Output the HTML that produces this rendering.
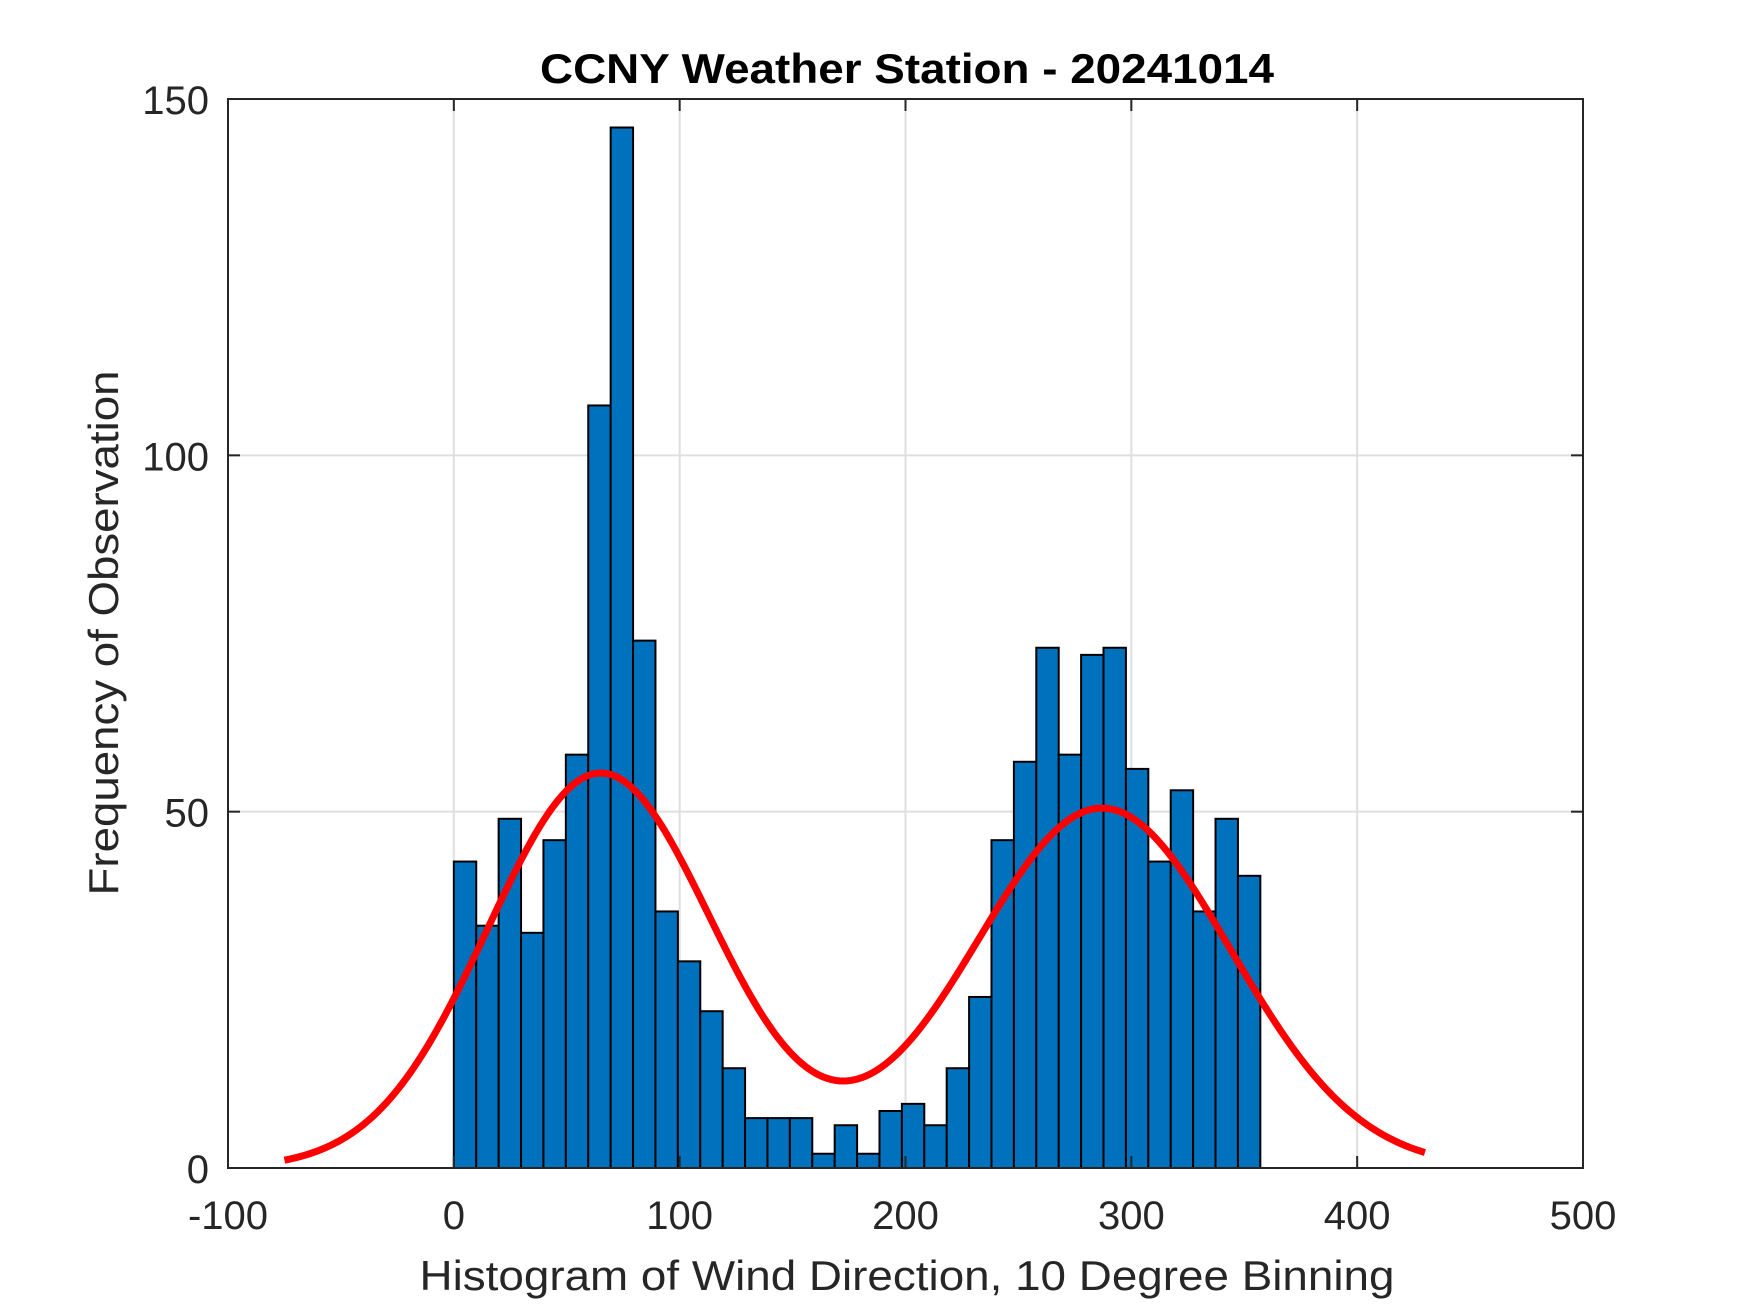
<!DOCTYPE html>
<html><head><meta charset="utf-8"><style>
html,body{margin:0;padding:0;background:#fff;}
svg{display:block;font-family:"Liberation Sans",Arial,sans-serif;}
</style></head><body>
<svg id="chart" width="1750" height="1313" viewBox="0 0 1750 1313">
<rect x="0" y="0" width="1750" height="1313" fill="#fff"/>
<g id="grid"></g>
<g id="bars"></g>
<g id="fit"></g>
<g id="axes"></g>
<text x="907" y="83" text-anchor="middle" font-size="42" font-weight="bold" fill="#000" textLength="734" lengthAdjust="spacingAndGlyphs">CCNY Weather Station - 20241014</text>
<text x="907" y="1290" text-anchor="middle" font-size="42" fill="#262626" textLength="975" lengthAdjust="spacingAndGlyphs">Histogram of Wind Direction, 10 Degree Binning</text>
<text transform="translate(118,633) rotate(-90)" text-anchor="middle" font-size="42" fill="#262626" textLength="525" lengthAdjust="spacingAndGlyphs">Frequency of Observation</text>
</svg>
<script>
const binStart = 0;
const binWidth = 9.92;
const counts = [43,34,49,33,46,58,107,146,74,36,29,22,14,7,7,7,2,6,2,8,9,6,14,24,46,57,73,58,72,73,56,43,53,36,49,41];
const xTicks = [-100,0,100,200,300,400,500];
const yTicks = [0,50,100,150];
const fitMeans = [65,287];
const fitSigmas = [50,57];
const fitAmps = [55.4,50.5];
const fitRange = [-75,430];

const L=228,R=1583,T=99,B=1168;
const xMin=-100,xMax=500,yMin=0,yMax=150;
const ns="http://www.w3.org/2000/svg";
function sx(v){return L+(v-xMin)/(xMax-xMin)*(R-L);}
function sy(v){return B-(v-yMin)/(yMax-yMin)*(B-T);}
function mk(tag,attrs,parent){const e=document.createElementNS(ns,tag);for(const k in attrs)e.setAttribute(k,attrs[k]);parent.appendChild(e);return e;}

const grid=document.getElementById('grid');
xTicks.forEach(t=>{const l=mk('line',{x1:sx(t),x2:sx(t),y1:T,y2:B,stroke:'#dfdfdf','stroke-width':2},grid);

});
yTicks.forEach(t=>{const l=mk('line',{x1:L,x2:R,y1:sy(t),y2:sy(t),stroke:'#dfdfdf','stroke-width':2},grid);

});

const bars=document.getElementById('bars');
counts.forEach((c,i)=>{const x0=binStart+i*binWidth;const x1=x0+binWidth;
const r=mk('rect',{x:sx(x0),y:sy(c),width:sx(x1)-sx(x0),height:sy(0)-sy(c),fill:'#0072bd',stroke:'#000','stroke-width':2},bars);

});

const fit=document.getElementById('fit');
let d='';
for(let k=0;k<=300;k++){const x=fitRange[0]+(fitRange[1]-fitRange[0])*k/300;let y=0;
for(let j=0;j<fitMeans.length;j++){y+=fitAmps[j]*Math.exp(-Math.pow((x-fitMeans[j])/fitSigmas[j],2)/2);}
d+=(k?'L':'M')+sx(x).toFixed(2)+' '+sy(y).toFixed(2);}
const p=mk('path',{d:d,fill:'none',stroke:'#ff0000','stroke-width':7,'stroke-linejoin':'round'},fit);



const axes=document.getElementById('axes');
const box=mk('rect',{x:L,y:T,width:R-L,height:B-T,fill:'none',stroke:'#262626','stroke-width':2},axes);


xTicks.forEach(t=>{
mk('line',{x1:sx(t),x2:sx(t),y1:B,y2:B-12,stroke:'#262626','stroke-width':2},axes);
mk('line',{x1:sx(t),x2:sx(t),y1:T,y2:T+12,stroke:'#262626','stroke-width':2},axes);
const tx=mk('text',{x:sx(t),y:1229,'text-anchor':'middle','font-size':40,fill:'#262626'},axes);
tx.textContent=t;

});
yTicks.forEach(t=>{
mk('line',{x1:L,x2:L+12,y1:sy(t),y2:sy(t),stroke:'#262626','stroke-width':2},axes);
mk('line',{x1:R,x2:R-12,y1:sy(t),y2:sy(t),stroke:'#262626','stroke-width':2},axes);
const tx=mk('text',{x:209,y:sy(t)+15,'text-anchor':'end','font-size':40,fill:'#262626'},axes);
tx.textContent=t;

});
</script>
</body></html>
